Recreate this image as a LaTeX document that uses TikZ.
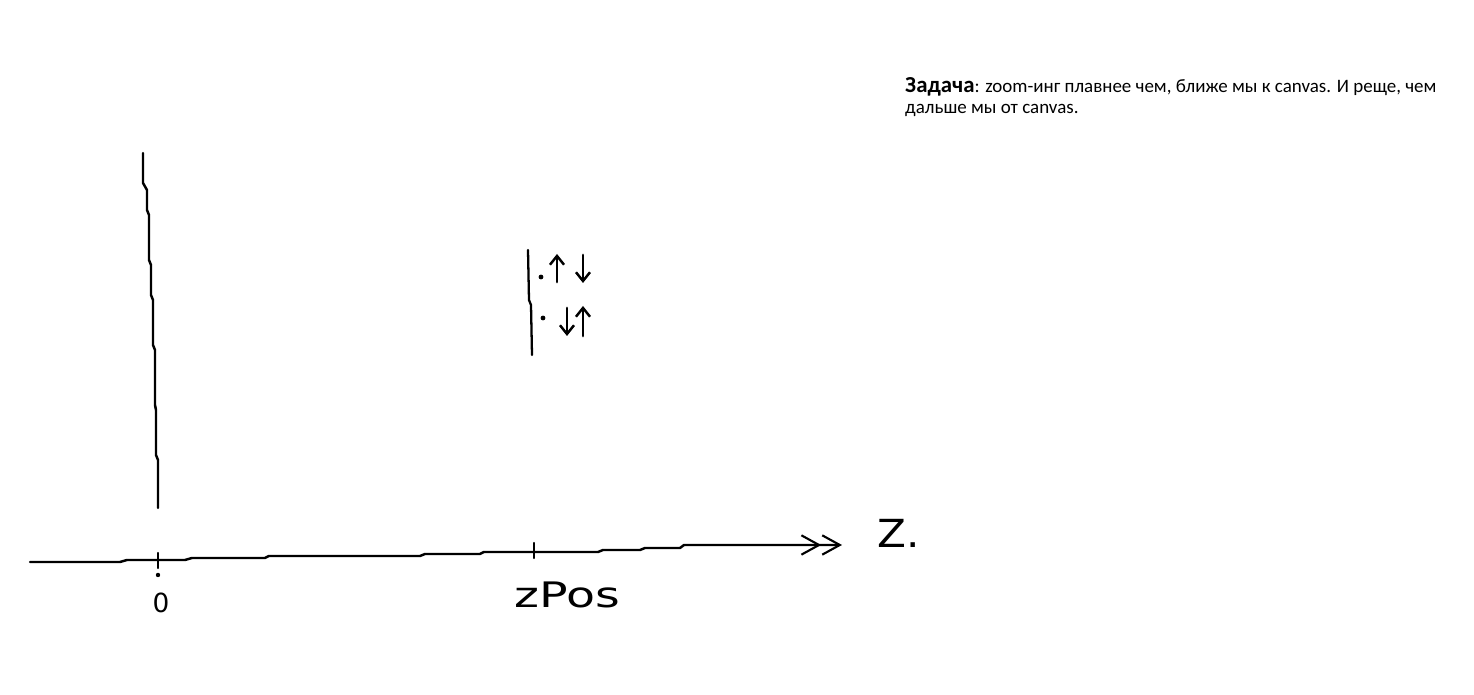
\documentclass[tikz,border=0pt]{standalone}
\usepackage{fontspec}
\setmainfont{Carlito}
\newfontfamily\handfont{DejaVu Sans}
\usetikzlibrary{arrows.meta,positioning}

\begin{document}
\begin{tikzpicture}[x=0.02cm, y=0.02cm, line width=1.4pt, line cap=round, line join=round,
	hand/.style={font=\handfont\fontsize{20}{22}\selectfont, inner sep=0pt},
	small arrow/.style={-{Straight Barb[length=5pt,width=8pt,line width=1.4pt]}, line width=1.6pt}]
	\useasboundingbox (0,0) rectangle (1474,695);
	% axes
	\coordinate (zstart) at (30,133);
	\coordinate (zend) at (842,150);
	\coordinate (vtop) at (143,542);
	\coordinate (vbot) at (158,187);
	\draw[-{Straight Barb[length=10pt,width=11pt,line width=1.2pt]Straight Barb[length=10pt,width=11pt,line width=1.2pt]}]
		(zstart) -- (120,133) -- (127,135) -- (185,135) -- (192,137) -- (265,137) -- (269,139) -- (420,139) -- (425,141)
		-- (480,141) -- (484,143) -- (598,143) -- (603,145) -- (640,145) -- (645,147) -- (680,147) -- (684,150) -- (zend);
	\draw (vtop) -- (143,512) -- (147,505) -- (147,485) -- (149,480) -- (149,435) -- (151,430) -- (151,400)
		-- (153,395) -- (153,350) -- (155,345) -- (155,290) -- (156,285) -- (156,240) -- (158,235) -- (vbot);
	% ticks
	\coordinate (t0top) at (158,142);
	\coordinate (t0bot) at (158,127);
	\coordinate (tztop) at (534,152);
	\coordinate (tzbot) at (534,137);
	\draw (t0top) -- (t0bot);
	\draw (tztop) -- (tzbot);
	\fill (158,120) circle (2.2);
	% labels
	\node[hand, font=\handfont\fontsize{15}{17}\selectfont] (zero) at (161,92) {0};
	\node[hand] (zpos) at (567,100) {\scalebox{1.35}[1]{zPos}};
	\node[hand, anchor=west] (zlabel) at (876,162) {\scalebox{1.2}[1.1]{Z.}};
	% bracket with arrows
	\coordinate (brtop) at (528,445);
	\coordinate (brbot) at (532,340);
	\draw[line width=1.3pt] (brtop) -- (529,395) -- (531,390) -- (brbot);
	\fill (541,418) circle (2.4);
	\fill (543,377) circle (2.4);
	\coordinate (a1s) at (557,413);
	\coordinate (a1e) at (557,441);
	\coordinate (a2s) at (583,440);
	\coordinate (a2e) at (583,412);
	\coordinate (a3s) at (567,387);
	\coordinate (a3e) at (567,359);
	\coordinate (a4s) at (583,359);
	\coordinate (a4e) at (583,389);
	\draw[small arrow] (a1s) -- (a1e);
	\draw[small arrow] (a2s) -- (a2e);
	\draw[small arrow] (a3s) -- (a3e);
	\draw[small arrow] (a4s) -- (a4e);
	% task text
	\node[anchor=base west, align=left, inner sep=0pt, font=\fontsize{10.8}{12}\selectfont] (task) at (904,581)
		{{\fontsize{13}{12}\selectfont\textbf{Задача}}: zoom-инг плавнее чем, ближе мы к canvas. И реще, чем\\дальше мы от canvas.};
\end{tikzpicture}
\end{document}
